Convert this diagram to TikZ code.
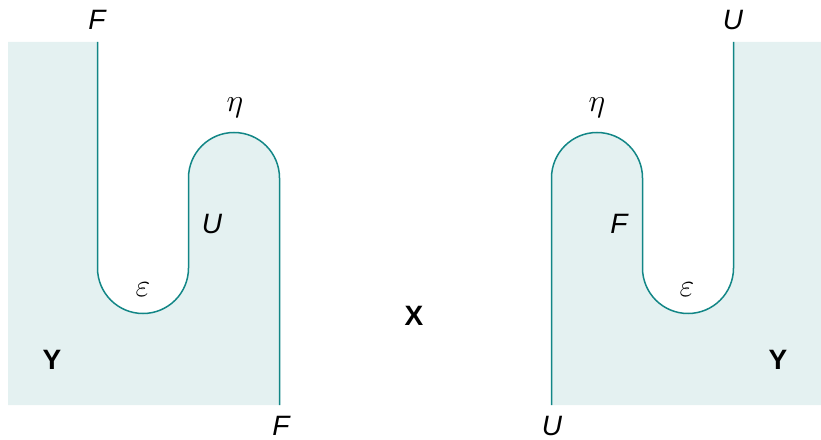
\RequirePackage{fix-cm}
\documentclass[tikz,border=0pt]{standalone}
\usepackage{amsmath,amssymb}
\usepackage{fontspec}
\setmainfont{Liberation Sans}
\usepackage{xcolor}
\usepackage{tikz}
\definecolor{stringteal}{RGB}{18,134,134}
\definecolor{regionteal}{RGB}{228,241,241}
\tikzset{
  region/.style={fill=regionteal,draw=none},
  wire/.style={draw=stringteal,line width=1.5pt},
  funlabel/.style={font=\fontsize{28}{32}\selectfont\itshape,inner sep=0pt},
  catlabel/.style={font=\fontsize{28}{32}\selectfont\bfseries,inner sep=0pt},
  cellabel/.style={font=\fontsize{32}{36}\selectfont,inner sep=0pt}
}

\begin{document}
\begin{tikzpicture}[x=1pt,y=1pt]
  \useasboundingbox (0,0) rectangle (821,439);
  % left snake: Y on the left of the wire
  \path[region] (8,397) -- (97.5,397) -- (97.5,171)
    arc[start angle=180,end angle=360,radius=45.5] -- (188.5,261)
    arc[start angle=180,end angle=0,radius=45.5] -- (279.5,34)
    -- (8,34) -- cycle;
  \draw[wire] (97.5,397) -- (97.5,171)
    arc[start angle=180,end angle=360,radius=45.5] -- (188.5,261)
    arc[start angle=180,end angle=0,radius=45.5] -- (279.5,34);
  % right snake: Y on the right of the wire
  \path[region] (821,397) -- (733.5,397) -- (733.5,171)
    arc[start angle=0,end angle=-180,radius=45.5] -- (642.5,261)
    arc[start angle=0,end angle=180,radius=45.5] -- (551.5,34)
    -- (821,34) -- cycle;
  \draw[wire] (733.5,397) -- (733.5,171)
    arc[start angle=0,end angle=-180,radius=45.5] -- (642.5,261)
    arc[start angle=0,end angle=180,radius=45.5] -- (551.5,34);
  % labels
  \node[funlabel] (Ftop) at (97,419) {F};
  \node[cellabel] (etaL) at (235,331) {$\eta$};
  \node[funlabel] (Umid) at (212,215) {U};
  \node[cellabel] (epsL) at (143,149) {$\varepsilon$};
  \node[catlabel] (Yleft) at (52,79) {Y};
  \node[funlabel] (Fbot) at (281,13) {F};
  \node[catlabel] (Xmid) at (414,123) {X};
  \node[funlabel] (Utop) at (733,419) {U};
  \node[cellabel] (etaR) at (597,331) {$\eta$};
  \node[funlabel] (Fmid) at (619,215) {F};
  \node[cellabel] (epsR) at (687,149) {$\varepsilon$};
  \node[catlabel] (Yright) at (778,79) {Y};
  \node[funlabel] (Ubot) at (552,13) {U};
\end{tikzpicture}
\end{document}
